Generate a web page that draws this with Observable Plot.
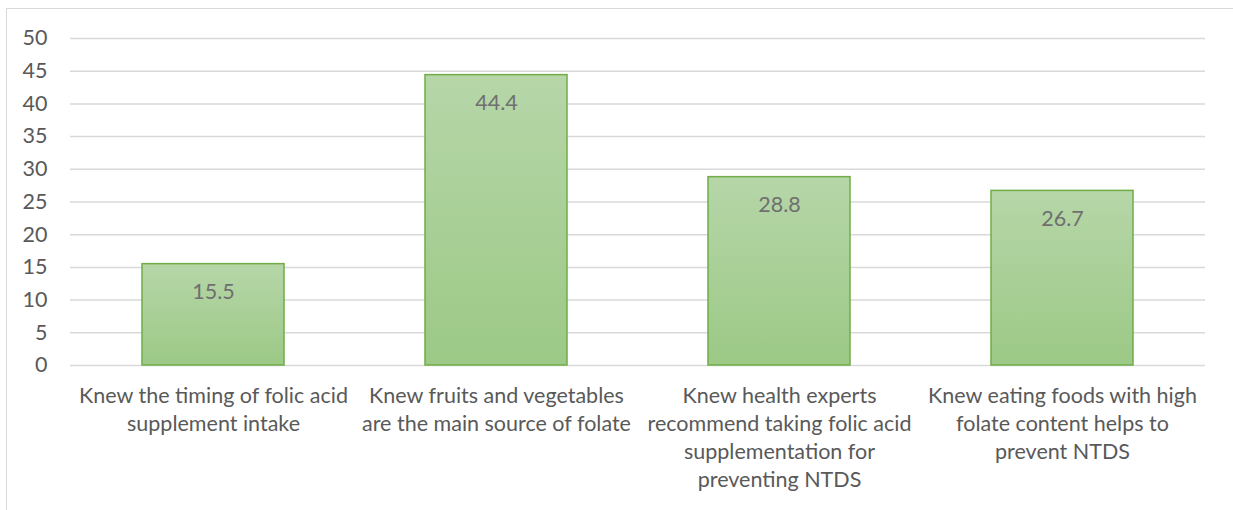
<!DOCTYPE html>
<html><head><meta charset="utf-8">
<script src="https://cdn.jsdelivr.net/npm/d3@7"></script>
<script src="https://cdn.jsdelivr.net/npm/@observablehq/plot@0.6"></script>
<style>
html,body{margin:0;padding:0;background:#fff;width:1233px;height:510px;overflow:hidden;}
#frame{position:absolute;left:6px;top:8px;right:-2px;bottom:-2px;border-top:1.5px solid #d9d9d9;border-left:1.5px solid #d9d9d9;}
#chart{position:absolute;left:0;top:0;}
</style></head>
<body>
<div id="frame"></div>
<div id="chart"></div>
<script>
const categories = [
  "Knew the timing of folic acid\nsupplement intake",
  "Knew fruits and vegetables\nare the main source of folate",
  "Knew health experts\nrecommend taking folic acid\nsupplementation for\npreventing NTDS",
  "Knew eating foods with high\nfolate content helps to\nprevent NTDS"
];
const values = [15.5, 44.4, 28.8, 26.7];
const yTicks = [0, 5, 10, 15, 20, 25, 30, 35, 40, 45, 50];

const data = categories.map((c, i) => ({category: c, value: values[i]}));
const font = "Lato, 'Open Sans', sans-serif";
const fs = 21.5;

const chart = Plot.plot({
  width: 1233,
  height: 510,
  marginLeft: 70,
  marginRight: 28,
  marginTop: 38,
  marginBottom: 145,
  style: {fontFamily: font, fontSize: fs + "px", color: "#595959", background: "transparent"},
  x: {domain: categories, paddingInner: 0.5, paddingOuter: 0.25, label: null},
  y: {domain: [0, 50], label: null},
  marks: [
    Plot.gridY(yTicks, {stroke: "#d9d9d9", strokeOpacity: 1, strokeWidth: 1.5}),
    Plot.axisY(yTicks, {tickSize: 0, tickPadding: 23, fill: "#595959", fontSize: fs, label: null}),
    Plot.axisX({tickSize: 0, tickPadding: 18, fill: "#595959", fontSize: fs, lineHeight: 1.3, label: null}),
    Plot.barY(data, {x: "category", y: "value", fill: "url(#barGrad)", stroke: "#70ad47", strokeWidth: 1.5}),
    Plot.text(data, {x: "category", y: "value", text: d => d.value.toFixed(1), dy: 28, fill: "#6f6f6f", fontSize: fs, lineAnchor: "middle"})
  ]
});

const svg = d3.select(chart);
const defs = svg.insert("defs", ":first-child");
const g = defs.append("linearGradient").attr("id", "barGrad").attr("x1", 0).attr("y1", 0).attr("x2", 0).attr("y2", 1);
g.append("stop").attr("offset", "0%").attr("stop-color", "#b6d6a8");
g.append("stop").attr("offset", "100%").attr("stop-color", "#9cc986");
document.getElementById("chart").appendChild(chart);
</script>
</body></html>
